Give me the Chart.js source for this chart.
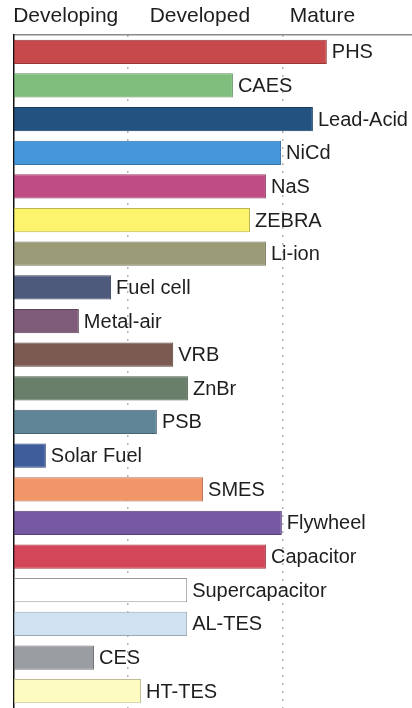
<!DOCTYPE html>
<html>
<head>
<meta charset="utf-8">
<script src="https://cdn.jsdelivr.net/npm/chart.js@4"></script>
<style>
  html, body { margin: 0; padding: 0; background: #fff; }
  #wrap { width: 412px; height: 708px; position: relative; }
</style>
</head>
<body>
<div id="wrap"><canvas id="maturity"></canvas></div>
<script>
// storage technologies, top to bottom
const technologies = ['PHS', 'CAES', 'Lead-Acid', 'NiCd', 'NaS', 'ZEBRA', 'Li-ion', 'Fuel cell', 'Metal-air',
    'VRB', 'ZnBr', 'PSB', 'Solar Fuel', 'SMES', 'Flywheel', 'Capacitor', 'Supercapacitor', 'AL-TES', 'CES', 'HT-TES'];
// maturity score (0 = left axis, 100 = right edge)
const maturity = [78.6, 55, 75.1, 67.1, 63.3, 59.3, 63.3, 24.4, 16.3,
    40, 43.7, 35.9, 8, 47.5, 67.3, 63.3, 43.5, 43.5, 20.1, 31.9];
const barColors = ['#c8494b', '#7fbe7c', '#22527f', '#4597da', '#c04c86', '#fcf46c', '#9b9a77', '#4e5a7b', '#7e5b78',
    '#7b5b51', '#697f69', '#608597', '#3f5c9b', '#f2966a', '#7558a1', '#d34559', '#ffffff', '#d0e2f1', '#9a9da1', '#fefbc2'];
const stageLabels = ['Developing', 'Developed', 'Mature'];
const stageCenters = [13, 46.7, 77.5];
const stageBounds = [28.6, 67.6];

function darken(hex, f) {
    const n = parseInt(hex.slice(1), 16);
    const r = Math.round(((n >> 16) & 255) * f);
    const g = Math.round(((n >> 8) & 255) * f);
    const b = Math.round((n & 255) * f);
    return `rgb(${r},${g},${b})`;
}

const barLabels = {
    id: 'barLabels',
    afterDatasetsDraw(chart) {
        const ctx = chart.ctx;
        const meta = chart.getDatasetMeta(0);
        ctx.save();
        ctx.font = '20px "Liberation Sans", Arial, sans-serif';
        ctx.fillStyle = '#1e1e1e';
        ctx.textBaseline = 'middle';
        meta.data.forEach((bar, i) => {
            ctx.fillText(technologies[i], bar.x + 5, bar.y + 1);
        });
        ctx.restore();
    }
};

new Chart(document.getElementById('maturity'), {
    type: 'bar',
    data: {
        labels: technologies,
        datasets: [{
            data: maturity,
            backgroundColor: barColors,
            borderColor: barColors.map(c => c === '#ffffff' ? '#9a9a9a' : darken(c, 0.75)),
            borderWidth: 1,
            borderSkipped: false,
            categoryPercentage: 1,
            barPercentage: 0.72
        }]
    },
    options: {
        indexAxis: 'y',
        responsive: true,
        maintainAspectRatio: false,
        animation: false,
        layout: { padding: 0 },
        plugins: {
            legend: { display: false },
            tooltip: { enabled: false }
        },
        scales: {
            x: {
                position: 'top',
                min: 0,
                max: 100,
                afterBuildTicks: (scale) => {
                    scale.ticks = stageCenters.map(v => ({ value: v }));
                },
                afterFit: (scale) => { scale.height = 35; },
                ticks: {
                    autoSkip: false,
                    maxRotation: 0,
                    padding: 6,
                    color: '#1e1e1e',
                    font: { family: '"Liberation Sans", Arial, sans-serif', size: 21 },
                    callback: (value, index) => stageLabels[index]
                },
                grid: { display: false, drawTicks: false },
                border: { display: true, color: '#8a8a8a', width: 1.5 }
            },
            xStage: {
                position: 'bottom',
                min: 0,
                max: 100,
                afterBuildTicks: (scale) => {
                    scale.ticks = stageBounds.map(v => ({ value: v }));
                },
                afterFit: (scale) => { scale.height = 0; },
                ticks: { display: false },
                grid: { color: '#b4b4b4', lineWidth: 1.5, drawTicks: false },
                border: { display: false, dash: [2, 6] }
            },
            y: {
                afterFit: (scale) => { scale.width = 14; },
                ticks: { display: false },
                grid: { display: false, drawTicks: false },
                border: { display: true, color: '#111', width: 1.5 }
            }
        }
    },
    plugins: [barLabels]
});
</script>
</body>
</html>
